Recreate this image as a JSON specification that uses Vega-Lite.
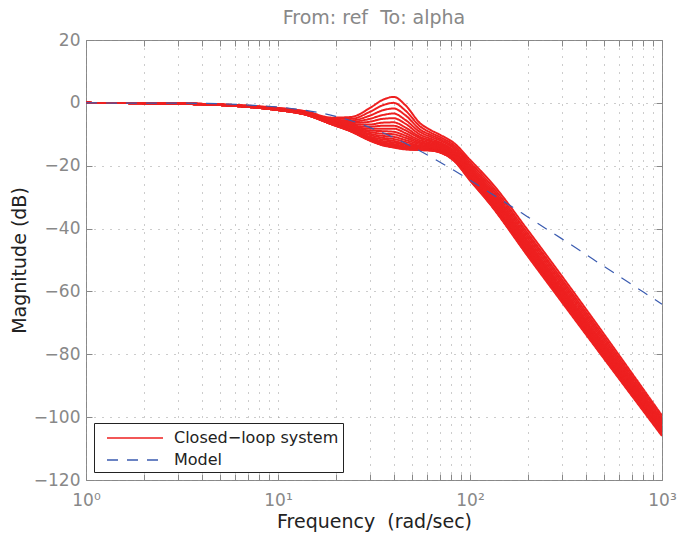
{
"$schema": "https://vega.github.io/schema/vega-lite/v6.json",
"width": 576, "height": 440,
"autosize": {"type": "none"},
"padding": {"left": 86, "top": 40, "right": 15, "bottom": 57},
"background": "white",
"title": {"text": "From: ref\u00a0 To: alpha", "color": "#888888", "fontSize": 19, "fontWeight": "normal", "font": "DejaVu Sans", "offset": 3, "anchor": "middle"},
"config": {
 "font": "DejaVu Sans",
 "view": {"stroke": "#888888", "strokeWidth": 1},
 "axis": {"domain": false, "labelColor": "#888888", "labelFontSize": 17, "labelFont": "DejaVu Sans", "titleColor": "#222222", "titleFontSize": 19, "titleFontWeight": "normal", "titleFont": "DejaVu Sans", "tickColor": "#888888", "tickSize": -6, "gridColor": "#999999", "gridDash": [1, 7], "gridOpacity": 1, "gridWidth": 1},
 "legend": {"orient": "bottom-left", "offset": 8, "strokeColor": "#222222", "fillColor": "white", "padding": 4, "labelFontSize": 16, "labelColor": "#222222", "labelFont": "DejaVu Sans", "labelLimit": 400, "symbolType": "M-2.8,0H2.8", "symbolSize": 400, "symbolStrokeWidth": 1.5, "symbolOffset": 26, "labelOffset": 28, "rowPadding": 3, "cornerRadius": 0}
},
"resolve": {"axis": {"x": "independent", "y": "independent"}},
"layer": [
{
 "data": {"values": [
{"k":0,"w":1,"db":0,"g":"a"},{"k":0,"w":3,"db":-0.2,"g":"a"},{"k":0,"w":5,"db":-0.5,"g":"a"},{"k":0,"w":7,"db":-0.9,"g":"a"},{"k":0,"w":10,"db":-1.6,"g":"a"},{"k":0,"w":14,"db":-2.7,"g":"a"},{"k":0,"w":19,"db":-4.7,"g":"a"},{"k":0,"w":24,"db":-4.5,"g":"a"},{"k":0,"w":30,"db":-1.7,"g":"a"},{"k":0,"w":35,"db":0.9,"g":"a"},{"k":0,"w":40,"db":1.9,"g":"a"},{"k":0,"w":46,"db":-0.7,"g":"a"},{"k":0,"w":55,"db":-6.5,"g":"a"},{"k":0,"w":63,"db":-8.8,"g":"a"},{"k":0,"w":70,"db":-10.2,"g":"a"},{"k":0,"w":83,"db":-12.9,"g":"a"},{"k":0,"w":100,"db":-18.1,"g":"a"},{"k":0,"w":127,"db":-24.8,"g":"a"},{"k":0,"w":200,"db":-40.5,"g":"a"},{"k":0,"w":300,"db":-55.0,"g":"a"},{"k":0,"w":1000,"db":-99.5,"g":"a"},
{"k":1,"w":1,"db":0,"g":"a"},{"k":1,"w":3,"db":-0.2,"g":"a"},{"k":1,"w":5,"db":-0.5,"g":"a"},{"k":1,"w":7,"db":-1.0,"g":"a"},{"k":1,"w":10,"db":-1.7,"g":"a"},{"k":1,"w":14,"db":-2.8,"g":"a"},{"k":1,"w":19,"db":-5.0,"g":"a"},{"k":1,"w":24,"db":-5.1,"g":"a"},{"k":1,"w":30,"db":-2.9,"g":"a"},{"k":1,"w":35,"db":-0.8,"g":"a"},{"k":1,"w":40,"db":0.0,"g":"a"},{"k":1,"w":46,"db":-2.4,"g":"a"},{"k":1,"w":55,"db":-7.5,"g":"a"},{"k":1,"w":63,"db":-9.6,"g":"a"},{"k":1,"w":70,"db":-10.9,"g":"a"},{"k":1,"w":83,"db":-13.6,"g":"a"},{"k":1,"w":100,"db":-18.9,"g":"a"},{"k":1,"w":127,"db":-25.7,"g":"a"},{"k":1,"w":200,"db":-41.5,"g":"a"},{"k":1,"w":300,"db":-56.0,"g":"a"},{"k":1,"w":1000,"db":-100.2,"g":"a"},
{"k":2,"w":1,"db":0,"g":"a"},{"k":2,"w":3,"db":-0.2,"g":"a"},{"k":2,"w":5,"db":-0.5,"g":"a"},{"k":2,"w":7,"db":-1.0,"g":"a"},{"k":2,"w":10,"db":-1.8,"g":"a"},{"k":2,"w":14,"db":-3.0,"g":"a"},{"k":2,"w":19,"db":-5.2,"g":"a"},{"k":2,"w":24,"db":-5.6,"g":"a"},{"k":2,"w":30,"db":-4.1,"g":"a"},{"k":2,"w":35,"db":-2.4,"g":"a"},{"k":2,"w":40,"db":-1.8,"g":"a"},{"k":2,"w":46,"db":-3.9,"g":"a"},{"k":2,"w":55,"db":-8.5,"g":"a"},{"k":2,"w":63,"db":-10.3,"g":"a"},{"k":2,"w":70,"db":-11.5,"g":"a"},{"k":2,"w":83,"db":-14.2,"g":"a"},{"k":2,"w":100,"db":-19.6,"g":"a"},{"k":2,"w":127,"db":-26.5,"g":"a"},{"k":2,"w":200,"db":-42.3,"g":"a"},{"k":2,"w":300,"db":-56.8,"g":"a"},{"k":2,"w":1000,"db":-100.9,"g":"a"},
{"k":3,"w":1,"db":0,"g":"a"},{"k":3,"w":3,"db":-0.2,"g":"a"},{"k":3,"w":5,"db":-0.6,"g":"a"},{"k":3,"w":7,"db":-1.0,"g":"a"},{"k":3,"w":10,"db":-1.8,"g":"a"},{"k":3,"w":14,"db":-3.1,"g":"a"},{"k":3,"w":19,"db":-5.4,"g":"a"},{"k":3,"w":24,"db":-6.0,"g":"a"},{"k":3,"w":30,"db":-5.1,"g":"a"},{"k":3,"w":35,"db":-3.9,"g":"a"},{"k":3,"w":40,"db":-3.4,"g":"a"},{"k":3,"w":46,"db":-5.4,"g":"a"},{"k":3,"w":55,"db":-9.3,"g":"a"},{"k":3,"w":63,"db":-10.9,"g":"a"},{"k":3,"w":70,"db":-12.0,"g":"a"},{"k":3,"w":83,"db":-14.7,"g":"a"},{"k":3,"w":100,"db":-20.2,"g":"a"},{"k":3,"w":127,"db":-27.2,"g":"a"},{"k":3,"w":200,"db":-43.1,"g":"a"},{"k":3,"w":300,"db":-57.6,"g":"a"},{"k":3,"w":1000,"db":-101.5,"g":"a"},
{"k":4,"w":1,"db":0,"g":"a"},{"k":4,"w":3,"db":-0.2,"g":"a"},{"k":4,"w":5,"db":-0.6,"g":"a"},{"k":4,"w":7,"db":-1.1,"g":"a"},{"k":4,"w":10,"db":-1.9,"g":"a"},{"k":4,"w":14,"db":-3.2,"g":"a"},{"k":4,"w":19,"db":-5.6,"g":"a"},{"k":4,"w":24,"db":-6.4,"g":"a"},{"k":4,"w":30,"db":-6.0,"g":"a"},{"k":4,"w":35,"db":-5.1,"g":"a"},{"k":4,"w":40,"db":-4.9,"g":"a"},{"k":4,"w":46,"db":-6.6,"g":"a"},{"k":4,"w":55,"db":-10.1,"g":"a"},{"k":4,"w":63,"db":-11.5,"g":"a"},{"k":4,"w":70,"db":-12.6,"g":"a"},{"k":4,"w":83,"db":-15.3,"g":"a"},{"k":4,"w":100,"db":-20.8,"g":"a"},{"k":4,"w":127,"db":-27.8,"g":"a"},{"k":4,"w":200,"db":-43.9,"g":"a"},{"k":4,"w":300,"db":-58.4,"g":"a"},{"k":4,"w":1000,"db":-102.0,"g":"a"},
{"k":5,"w":1,"db":0,"g":"a"},{"k":5,"w":3,"db":-0.2,"g":"a"},{"k":5,"w":5,"db":-0.6,"g":"a"},{"k":5,"w":7,"db":-1.1,"g":"a"},{"k":5,"w":10,"db":-2.0,"g":"a"},{"k":5,"w":14,"db":-3.3,"g":"a"},{"k":5,"w":19,"db":-5.8,"g":"a"},{"k":5,"w":24,"db":-6.8,"g":"a"},{"k":5,"w":30,"db":-6.9,"g":"a"},{"k":5,"w":35,"db":-6.3,"g":"a"},{"k":5,"w":40,"db":-6.2,"g":"a"},{"k":5,"w":46,"db":-7.8,"g":"a"},{"k":5,"w":55,"db":-10.8,"g":"a"},{"k":5,"w":63,"db":-12.0,"g":"a"},{"k":5,"w":70,"db":-13.0,"g":"a"},{"k":5,"w":83,"db":-15.7,"g":"a"},{"k":5,"w":100,"db":-21.3,"g":"a"},{"k":5,"w":127,"db":-28.4,"g":"a"},{"k":5,"w":200,"db":-44.5,"g":"a"},{"k":5,"w":300,"db":-59.0,"g":"a"},{"k":5,"w":1000,"db":-102.5,"g":"a"},
{"k":6,"w":1,"db":0,"g":"a"},{"k":6,"w":3,"db":-0.2,"g":"a"},{"k":6,"w":5,"db":-0.6,"g":"a"},{"k":6,"w":7,"db":-1.1,"g":"a"},{"k":6,"w":10,"db":-2.0,"g":"a"},{"k":6,"w":14,"db":-3.3,"g":"a"},{"k":6,"w":19,"db":-5.9,"g":"a"},{"k":6,"w":24,"db":-7.1,"g":"a"},{"k":6,"w":30,"db":-7.6,"g":"a"},{"k":6,"w":35,"db":-7.3,"g":"a"},{"k":6,"w":40,"db":-7.3,"g":"a"},{"k":6,"w":46,"db":-8.7,"g":"a"},{"k":6,"w":55,"db":-11.3,"g":"a"},{"k":6,"w":63,"db":-12.4,"g":"a"},{"k":6,"w":70,"db":-13.4,"g":"a"},{"k":6,"w":83,"db":-16.1,"g":"a"},{"k":6,"w":100,"db":-21.7,"g":"a"},{"k":6,"w":127,"db":-28.9,"g":"a"},{"k":6,"w":200,"db":-45.1,"g":"a"},{"k":6,"w":300,"db":-59.6,"g":"a"},{"k":6,"w":1000,"db":-102.9,"g":"a"},
{"k":7,"w":1,"db":0,"g":"a"},{"k":7,"w":3,"db":-0.2,"g":"a"},{"k":7,"w":5,"db":-0.6,"g":"a"},{"k":7,"w":7,"db":-1.2,"g":"a"},{"k":7,"w":10,"db":-2.0,"g":"a"},{"k":7,"w":14,"db":-3.4,"g":"a"},{"k":7,"w":19,"db":-6.0,"g":"a"},{"k":7,"w":24,"db":-7.4,"g":"a"},{"k":7,"w":30,"db":-8.2,"g":"a"},{"k":7,"w":35,"db":-8.2,"g":"a"},{"k":7,"w":40,"db":-8.2,"g":"a"},{"k":7,"w":46,"db":-9.6,"g":"a"},{"k":7,"w":55,"db":-11.9,"g":"a"},{"k":7,"w":63,"db":-12.8,"g":"a"},{"k":7,"w":70,"db":-13.7,"g":"a"},{"k":7,"w":83,"db":-16.4,"g":"a"},{"k":7,"w":100,"db":-22.1,"g":"a"},{"k":7,"w":127,"db":-29.3,"g":"a"},{"k":7,"w":200,"db":-45.5,"g":"a"},{"k":7,"w":300,"db":-60.0,"g":"a"},{"k":7,"w":1000,"db":-103.3,"g":"a"},
{"k":8,"w":1,"db":0,"g":"a"},{"k":8,"w":3,"db":-0.2,"g":"a"},{"k":8,"w":5,"db":-0.6,"g":"a"},{"k":8,"w":7,"db":-1.2,"g":"a"},{"k":8,"w":10,"db":-2.1,"g":"a"},{"k":8,"w":14,"db":-3.5,"g":"a"},{"k":8,"w":19,"db":-6.1,"g":"a"},{"k":8,"w":24,"db":-7.7,"g":"a"},{"k":8,"w":30,"db":-8.8,"g":"a"},{"k":8,"w":35,"db":-9.0,"g":"a"},{"k":8,"w":40,"db":-9.2,"g":"a"},{"k":8,"w":46,"db":-10.4,"g":"a"},{"k":8,"w":55,"db":-12.4,"g":"a"},{"k":8,"w":63,"db":-13.2,"g":"a"},{"k":8,"w":70,"db":-14.1,"g":"a"},{"k":8,"w":83,"db":-16.8,"g":"a"},{"k":8,"w":100,"db":-22.5,"g":"a"},{"k":8,"w":127,"db":-29.8,"g":"a"},{"k":8,"w":200,"db":-46.0,"g":"a"},{"k":8,"w":300,"db":-60.5,"g":"a"},{"k":8,"w":1000,"db":-103.6,"g":"a"},
{"k":9,"w":1,"db":0,"g":"a"},{"k":9,"w":3,"db":-0.2,"g":"a"},{"k":9,"w":5,"db":-0.6,"g":"a"},{"k":9,"w":7,"db":-1.2,"g":"a"},{"k":9,"w":10,"db":-2.1,"g":"a"},{"k":9,"w":14,"db":-3.5,"g":"a"},{"k":9,"w":19,"db":-6.3,"g":"a"},{"k":9,"w":24,"db":-7.9,"g":"a"},{"k":9,"w":30,"db":-9.3,"g":"a"},{"k":9,"w":35,"db":-9.8,"g":"a"},{"k":9,"w":40,"db":-10.0,"g":"a"},{"k":9,"w":46,"db":-11.1,"g":"a"},{"k":9,"w":55,"db":-12.8,"g":"a"},{"k":9,"w":63,"db":-13.5,"g":"a"},{"k":9,"w":70,"db":-14.3,"g":"a"},{"k":9,"w":83,"db":-17.0,"g":"a"},{"k":9,"w":100,"db":-22.8,"g":"a"},{"k":9,"w":127,"db":-30.1,"g":"a"},{"k":9,"w":200,"db":-46.4,"g":"a"},{"k":9,"w":300,"db":-60.9,"g":"a"},{"k":9,"w":1000,"db":-103.9,"g":"a"},
{"k":10,"w":1,"db":0,"g":"a"},{"k":10,"w":3,"db":-0.3,"g":"a"},{"k":10,"w":5,"db":-0.7,"g":"a"},{"k":10,"w":7,"db":-1.2,"g":"a"},{"k":10,"w":10,"db":-2.2,"g":"a"},{"k":10,"w":14,"db":-3.6,"g":"a"},{"k":10,"w":19,"db":-6.4,"g":"a"},{"k":10,"w":24,"db":-8.1,"g":"a"},{"k":10,"w":30,"db":-9.8,"g":"a"},{"k":10,"w":35,"db":-10.5,"g":"a"},{"k":10,"w":40,"db":-10.8,"g":"a"},{"k":10,"w":46,"db":-11.8,"g":"a"},{"k":10,"w":55,"db":-13.2,"g":"a"},{"k":10,"w":63,"db":-13.9,"g":"a"},{"k":10,"w":70,"db":-14.6,"g":"a"},{"k":10,"w":83,"db":-17.3,"g":"a"},{"k":10,"w":100,"db":-23.2,"g":"a"},{"k":10,"w":127,"db":-30.5,"g":"a"},{"k":10,"w":200,"db":-46.8,"g":"a"},{"k":10,"w":300,"db":-61.3,"g":"a"},{"k":10,"w":1000,"db":-104.2,"g":"a"},
{"k":11,"w":1,"db":0,"g":"a"},{"k":11,"w":3,"db":-0.3,"g":"a"},{"k":11,"w":5,"db":-0.7,"g":"a"},{"k":11,"w":7,"db":-1.2,"g":"a"},{"k":11,"w":10,"db":-2.2,"g":"a"},{"k":11,"w":14,"db":-3.6,"g":"a"},{"k":11,"w":19,"db":-6.4,"g":"a"},{"k":11,"w":24,"db":-8.3,"g":"a"},{"k":11,"w":30,"db":-10.2,"g":"a"},{"k":11,"w":35,"db":-11.1,"g":"a"},{"k":11,"w":40,"db":-11.5,"g":"a"},{"k":11,"w":46,"db":-12.4,"g":"a"},{"k":11,"w":55,"db":-13.6,"g":"a"},{"k":11,"w":63,"db":-14.1,"g":"a"},{"k":11,"w":70,"db":-14.8,"g":"a"},{"k":11,"w":83,"db":-17.5,"g":"a"},{"k":11,"w":100,"db":-23.4,"g":"a"},{"k":11,"w":127,"db":-30.8,"g":"a"},{"k":11,"w":200,"db":-47.1,"g":"a"},{"k":11,"w":300,"db":-61.6,"g":"a"},{"k":11,"w":1000,"db":-104.5,"g":"a"},
{"k":12,"w":1,"db":0,"g":"a"},{"k":12,"w":3,"db":-0.3,"g":"a"},{"k":12,"w":5,"db":-0.7,"g":"a"},{"k":12,"w":7,"db":-1.3,"g":"a"},{"k":12,"w":10,"db":-2.2,"g":"a"},{"k":12,"w":14,"db":-3.7,"g":"a"},{"k":12,"w":19,"db":-6.5,"g":"a"},{"k":12,"w":24,"db":-8.5,"g":"a"},{"k":12,"w":30,"db":-10.7,"g":"a"},{"k":12,"w":35,"db":-11.6,"g":"a"},{"k":12,"w":40,"db":-12.1,"g":"a"},{"k":12,"w":46,"db":-13.0,"g":"a"},{"k":12,"w":55,"db":-13.9,"g":"a"},{"k":12,"w":63,"db":-14.4,"g":"a"},{"k":12,"w":70,"db":-15.1,"g":"a"},{"k":12,"w":83,"db":-17.8,"g":"a"},{"k":12,"w":100,"db":-23.7,"g":"a"},{"k":12,"w":127,"db":-31.1,"g":"a"},{"k":12,"w":200,"db":-47.5,"g":"a"},{"k":12,"w":300,"db":-62.0,"g":"a"},{"k":12,"w":1000,"db":-104.7,"g":"a"},
{"k":13,"w":1,"db":0,"g":"a"},{"k":13,"w":3,"db":-0.3,"g":"a"},{"k":13,"w":5,"db":-0.7,"g":"a"},{"k":13,"w":7,"db":-1.3,"g":"a"},{"k":13,"w":10,"db":-2.2,"g":"a"},{"k":13,"w":14,"db":-3.7,"g":"a"},{"k":13,"w":19,"db":-6.6,"g":"a"},{"k":13,"w":24,"db":-8.6,"g":"a"},{"k":13,"w":30,"db":-11.0,"g":"a"},{"k":13,"w":35,"db":-12.1,"g":"a"},{"k":13,"w":40,"db":-12.6,"g":"a"},{"k":13,"w":46,"db":-13.4,"g":"a"},{"k":13,"w":55,"db":-14.2,"g":"a"},{"k":13,"w":63,"db":-14.6,"g":"a"},{"k":13,"w":70,"db":-15.2,"g":"a"},{"k":13,"w":83,"db":-17.9,"g":"a"},{"k":13,"w":100,"db":-23.9,"g":"a"},{"k":13,"w":127,"db":-31.3,"g":"a"},{"k":13,"w":200,"db":-47.7,"g":"a"},{"k":13,"w":300,"db":-62.2,"g":"a"},{"k":13,"w":1000,"db":-104.9,"g":"a"},
{"k":14,"w":1,"db":0,"g":"a"},{"k":14,"w":3,"db":-0.3,"g":"a"},{"k":14,"w":5,"db":-0.7,"g":"a"},{"k":14,"w":7,"db":-1.3,"g":"a"},{"k":14,"w":10,"db":-2.3,"g":"a"},{"k":14,"w":14,"db":-3.7,"g":"a"},{"k":14,"w":19,"db":-6.7,"g":"a"},{"k":14,"w":24,"db":-8.8,"g":"a"},{"k":14,"w":30,"db":-11.3,"g":"a"},{"k":14,"w":35,"db":-12.5,"g":"a"},{"k":14,"w":40,"db":-13.1,"g":"a"},{"k":14,"w":46,"db":-13.8,"g":"a"},{"k":14,"w":55,"db":-14.4,"g":"a"},{"k":14,"w":63,"db":-14.8,"g":"a"},{"k":14,"w":70,"db":-15.4,"g":"a"},{"k":14,"w":83,"db":-18.1,"g":"a"},{"k":14,"w":100,"db":-24.1,"g":"a"},{"k":14,"w":127,"db":-31.5,"g":"a"},{"k":14,"w":200,"db":-47.9,"g":"a"},{"k":14,"w":300,"db":-62.4,"g":"a"},{"k":14,"w":1000,"db":-105.1,"g":"a"},
{"k":15,"w":1,"db":0,"g":"a"},{"k":15,"w":3,"db":-0.3,"g":"a"},{"k":15,"w":5,"db":-0.7,"g":"a"},{"k":15,"w":7,"db":-1.3,"g":"a"},{"k":15,"w":10,"db":-2.3,"g":"a"},{"k":15,"w":14,"db":-3.8,"g":"a"},{"k":15,"w":19,"db":-6.7,"g":"a"},{"k":15,"w":24,"db":-8.9,"g":"a"},{"k":15,"w":30,"db":-11.5,"g":"a"},{"k":15,"w":35,"db":-12.8,"g":"a"},{"k":15,"w":40,"db":-13.4,"g":"a"},{"k":15,"w":46,"db":-14.1,"g":"a"},{"k":15,"w":55,"db":-14.6,"g":"a"},{"k":15,"w":63,"db":-14.9,"g":"a"},{"k":15,"w":70,"db":-15.5,"g":"a"},{"k":15,"w":83,"db":-18.2,"g":"a"},{"k":15,"w":100,"db":-24.2,"g":"a"},{"k":15,"w":127,"db":-31.6,"g":"a"},{"k":15,"w":200,"db":-48.1,"g":"a"},{"k":15,"w":300,"db":-62.6,"g":"a"},{"k":15,"w":1000,"db":-105.2,"g":"a"},
{"k":16,"w":1,"db":0,"g":"a"},{"k":16,"w":3,"db":-0.3,"g":"a"},{"k":16,"w":5,"db":-0.7,"g":"a"},{"k":16,"w":7,"db":-1.3,"g":"a"},{"k":16,"w":10,"db":-2.3,"g":"a"},{"k":16,"w":14,"db":-3.8,"g":"a"},{"k":16,"w":19,"db":-6.7,"g":"a"},{"k":16,"w":24,"db":-9.0,"g":"a"},{"k":16,"w":30,"db":-11.7,"g":"a"},{"k":16,"w":35,"db":-13.1,"g":"a"},{"k":16,"w":40,"db":-13.7,"g":"a"},{"k":16,"w":46,"db":-14.4,"g":"a"},{"k":16,"w":55,"db":-14.7,"g":"a"},{"k":16,"w":63,"db":-15.0,"g":"a"},{"k":16,"w":70,"db":-15.6,"g":"a"},{"k":16,"w":83,"db":-18.3,"g":"a"},{"k":16,"w":100,"db":-24.3,"g":"a"},{"k":16,"w":127,"db":-31.8,"g":"a"},{"k":16,"w":200,"db":-48.3,"g":"a"},{"k":16,"w":300,"db":-62.8,"g":"a"},{"k":16,"w":1000,"db":-105.3,"g":"a"},
{"k":17,"w":1,"db":0,"g":"a"},{"k":17,"w":3,"db":-0.3,"g":"a"},{"k":17,"w":5,"db":-0.7,"g":"a"},{"k":17,"w":7,"db":-1.3,"g":"a"},{"k":17,"w":10,"db":-2.3,"g":"a"},{"k":17,"w":14,"db":-3.8,"g":"a"},{"k":17,"w":19,"db":-6.8,"g":"a"},{"k":17,"w":24,"db":-9.0,"g":"a"},{"k":17,"w":30,"db":-11.8,"g":"a"},{"k":17,"w":35,"db":-13.3,"g":"a"},{"k":17,"w":40,"db":-14.0,"g":"a"},{"k":17,"w":46,"db":-14.6,"g":"a"},{"k":17,"w":55,"db":-14.9,"g":"a"},{"k":17,"w":63,"db":-15.1,"g":"a"},{"k":17,"w":70,"db":-15.7,"g":"a"},{"k":17,"w":83,"db":-18.4,"g":"a"},{"k":17,"w":100,"db":-24.4,"g":"a"},{"k":17,"w":127,"db":-31.9,"g":"a"},{"k":17,"w":200,"db":-48.4,"g":"a"},{"k":17,"w":300,"db":-62.9,"g":"a"},{"k":17,"w":1000,"db":-105.4,"g":"a"},
{"k":18,"w":1,"db":0,"g":"a"},{"k":18,"w":3,"db":-0.3,"g":"a"},{"k":18,"w":5,"db":-0.7,"g":"a"},{"k":18,"w":7,"db":-1.3,"g":"a"},{"k":18,"w":10,"db":-2.3,"g":"a"},{"k":18,"w":14,"db":-3.8,"g":"a"},{"k":18,"w":19,"db":-6.8,"g":"a"},{"k":18,"w":24,"db":-9.1,"g":"a"},{"k":18,"w":30,"db":-11.9,"g":"a"},{"k":18,"w":35,"db":-13.4,"g":"a"},{"k":18,"w":40,"db":-14.1,"g":"a"},{"k":18,"w":46,"db":-14.7,"g":"a"},{"k":18,"w":55,"db":-15.0,"g":"a"},{"k":18,"w":63,"db":-15.2,"g":"a"},{"k":18,"w":70,"db":-15.8,"g":"a"},{"k":18,"w":83,"db":-18.5,"g":"a"},{"k":18,"w":100,"db":-24.5,"g":"a"},{"k":18,"w":127,"db":-32.0,"g":"a"},{"k":18,"w":200,"db":-48.5,"g":"a"},{"k":18,"w":300,"db":-63.0,"g":"a"},{"k":18,"w":1000,"db":-105.7,"g":"a"},
{"k":19,"w":1,"db":0,"g":"a"},{"k":19,"w":3,"db":-0.3,"g":"a"},{"k":19,"w":5,"db":-0.7,"g":"a"},{"k":19,"w":7,"db":-1.3,"g":"a"},{"k":19,"w":10,"db":-2.3,"g":"a"},{"k":19,"w":14,"db":-3.8,"g":"a"},{"k":19,"w":19,"db":-6.8,"g":"a"},{"k":19,"w":24,"db":-9.1,"g":"a"},{"k":19,"w":30,"db":-12.0,"g":"a"},{"k":19,"w":35,"db":-13.5,"g":"a"},{"k":19,"w":40,"db":-14.2,"g":"a"},{"k":19,"w":46,"db":-14.8,"g":"a"},{"k":19,"w":55,"db":-15.0,"g":"a"},{"k":19,"w":63,"db":-15.2,"g":"a"},{"k":19,"w":70,"db":-15.8,"g":"a"},{"k":19,"w":83,"db":-18.6,"g":"a"},{"k":19,"w":100,"db":-24.7,"g":"a"},{"k":19,"w":127,"db":-32.2,"g":"a"},{"k":19,"w":200,"db":-48.8,"g":"a"},{"k":19,"w":300,"db":-63.3,"g":"a"},{"k":19,"w":1000,"db":-106.0,"g":"a"}
 ]},
 "mark": {"type": "line", "interpolate": "monotone", "strokeWidth": 2, "clip": true},
 "encoding": {
  "x": {"field": "w", "type": "quantitative", "scale": {"type": "log", "domain": [1, 1000], "nice": false},
        "axis": {"values": [1,2,3,4,5,6,7,8,9,10,20,30,40,50,60,70,80,90,100,200,300,400,500,600,700,800,900,1000],
                 "labelExpr": "datum.value == 1 ? '10⁰' : datum.value == 10 ? '10¹' : datum.value == 100 ? '10²' : datum.value == 1000 ? '10³' : ''",
                 "labelFlush": false, "labelOverlap": false, "labelPadding": 18, "title": "Frequency\u00a0 (rad/sec)", "titlePadding": 4}},
  "y": {"field": "db", "type": "quantitative", "scale": {"domain": [-120, 20], "nice": false},
        "axis": {"values": [-120,-100,-80,-60,-40,-20,0,20], "labelPadding": 12, "title": "Magnitude (dB)", "titlePadding": 4}},
  "color": {"field": "g", "type": "nominal", "scale": {"domain": ["a", "b"], "range": ["#ee2020", "#3a5bb0"]},
            "legend": {"title": null, "labelExpr": "datum.label == 'a' ? 'Closed−loop system' : 'Model'"}},
  "strokeDash": {"field": "g", "type": "nominal", "scale": {"domain": ["a", "b"], "range": [[1, 0], [11, 9]]},
            "legend": {"title": null, "labelExpr": "datum.label == 'a' ? 'Closed−loop system' : 'Model'"}},
  "detail": {"field": "k", "type": "nominal"}
 }
},
{
 "data": {"values": [
{"w":1,"db":0,"g":"b"},{"w":2,"db":-0.1,"g":"b"},{"w":3,"db":-0.1,"g":"b"},{"w":5,"db":-0.3,"g":"b"},{"w":7,"db":-0.7,"g":"b"},{"w":10,"db":-1.3,"g":"b"},{"w":14,"db":-2.4,"g":"b"},{"w":20,"db":-4.3,"g":"b"},{"w":25,"db":-6.0,"g":"b"},{"w":30,"db":-7.8,"g":"b"},{"w":40,"db":-11.0,"g":"b"},{"w":50,"db":-14.0,"g":"b"},{"w":63,"db":-17.3,"g":"b"},{"w":80,"db":-21.0,"g":"b"},{"w":100,"db":-24.6,"g":"b"},{"w":130,"db":-29.0,"g":"b"},{"w":160,"db":-32.5,"g":"b"},{"w":200,"db":-36.3,"g":"b"},{"w":250,"db":-40.1,"g":"b"},{"w":300,"db":-43.2,"g":"b"},{"w":400,"db":-48.2,"g":"b"},{"w":500,"db":-52.1,"g":"b"},{"w":650,"db":-56.6,"g":"b"},{"w":800,"db":-60.2,"g":"b"},{"w":1000,"db":-64.1,"g":"b"}
 ]},
 "mark": {"type": "line", "interpolate": "monotone", "strokeWidth": 1.2, "clip": true},
 "encoding": {
  "x": {"field": "w", "type": "quantitative", "scale": {"type": "log", "domain": [1, 1000], "nice": false},
        "axis": {"orient": "top", "values": [1,2,3,4,5,6,7,8,9,10,20,30,40,50,60,70,80,90,100,200,300,400,500,600,700,800,900,1000], "labels": false, "title": null, "grid": false}},
  "y": {"field": "db", "type": "quantitative", "scale": {"domain": [-120, 20], "nice": false},
        "axis": {"orient": "right", "values": [-120,-100,-80,-60,-40,-20,0,20], "labels": false, "title": null, "grid": false}},
  "color": {"field": "g", "type": "nominal", "scale": {"domain": ["a", "b"], "range": ["#ee2020", "#3a5bb0"]},
            "legend": {"title": null, "labelExpr": "datum.label == 'a' ? 'Closed−loop system' : 'Model'"}},
  "strokeDash": {"field": "g", "type": "nominal", "scale": {"domain": ["a", "b"], "range": [[1, 0], [11, 9]]},
            "legend": {"title": null, "labelExpr": "datum.label == 'a' ? 'Closed−loop system' : 'Model'"}}
 }
}
]
}
